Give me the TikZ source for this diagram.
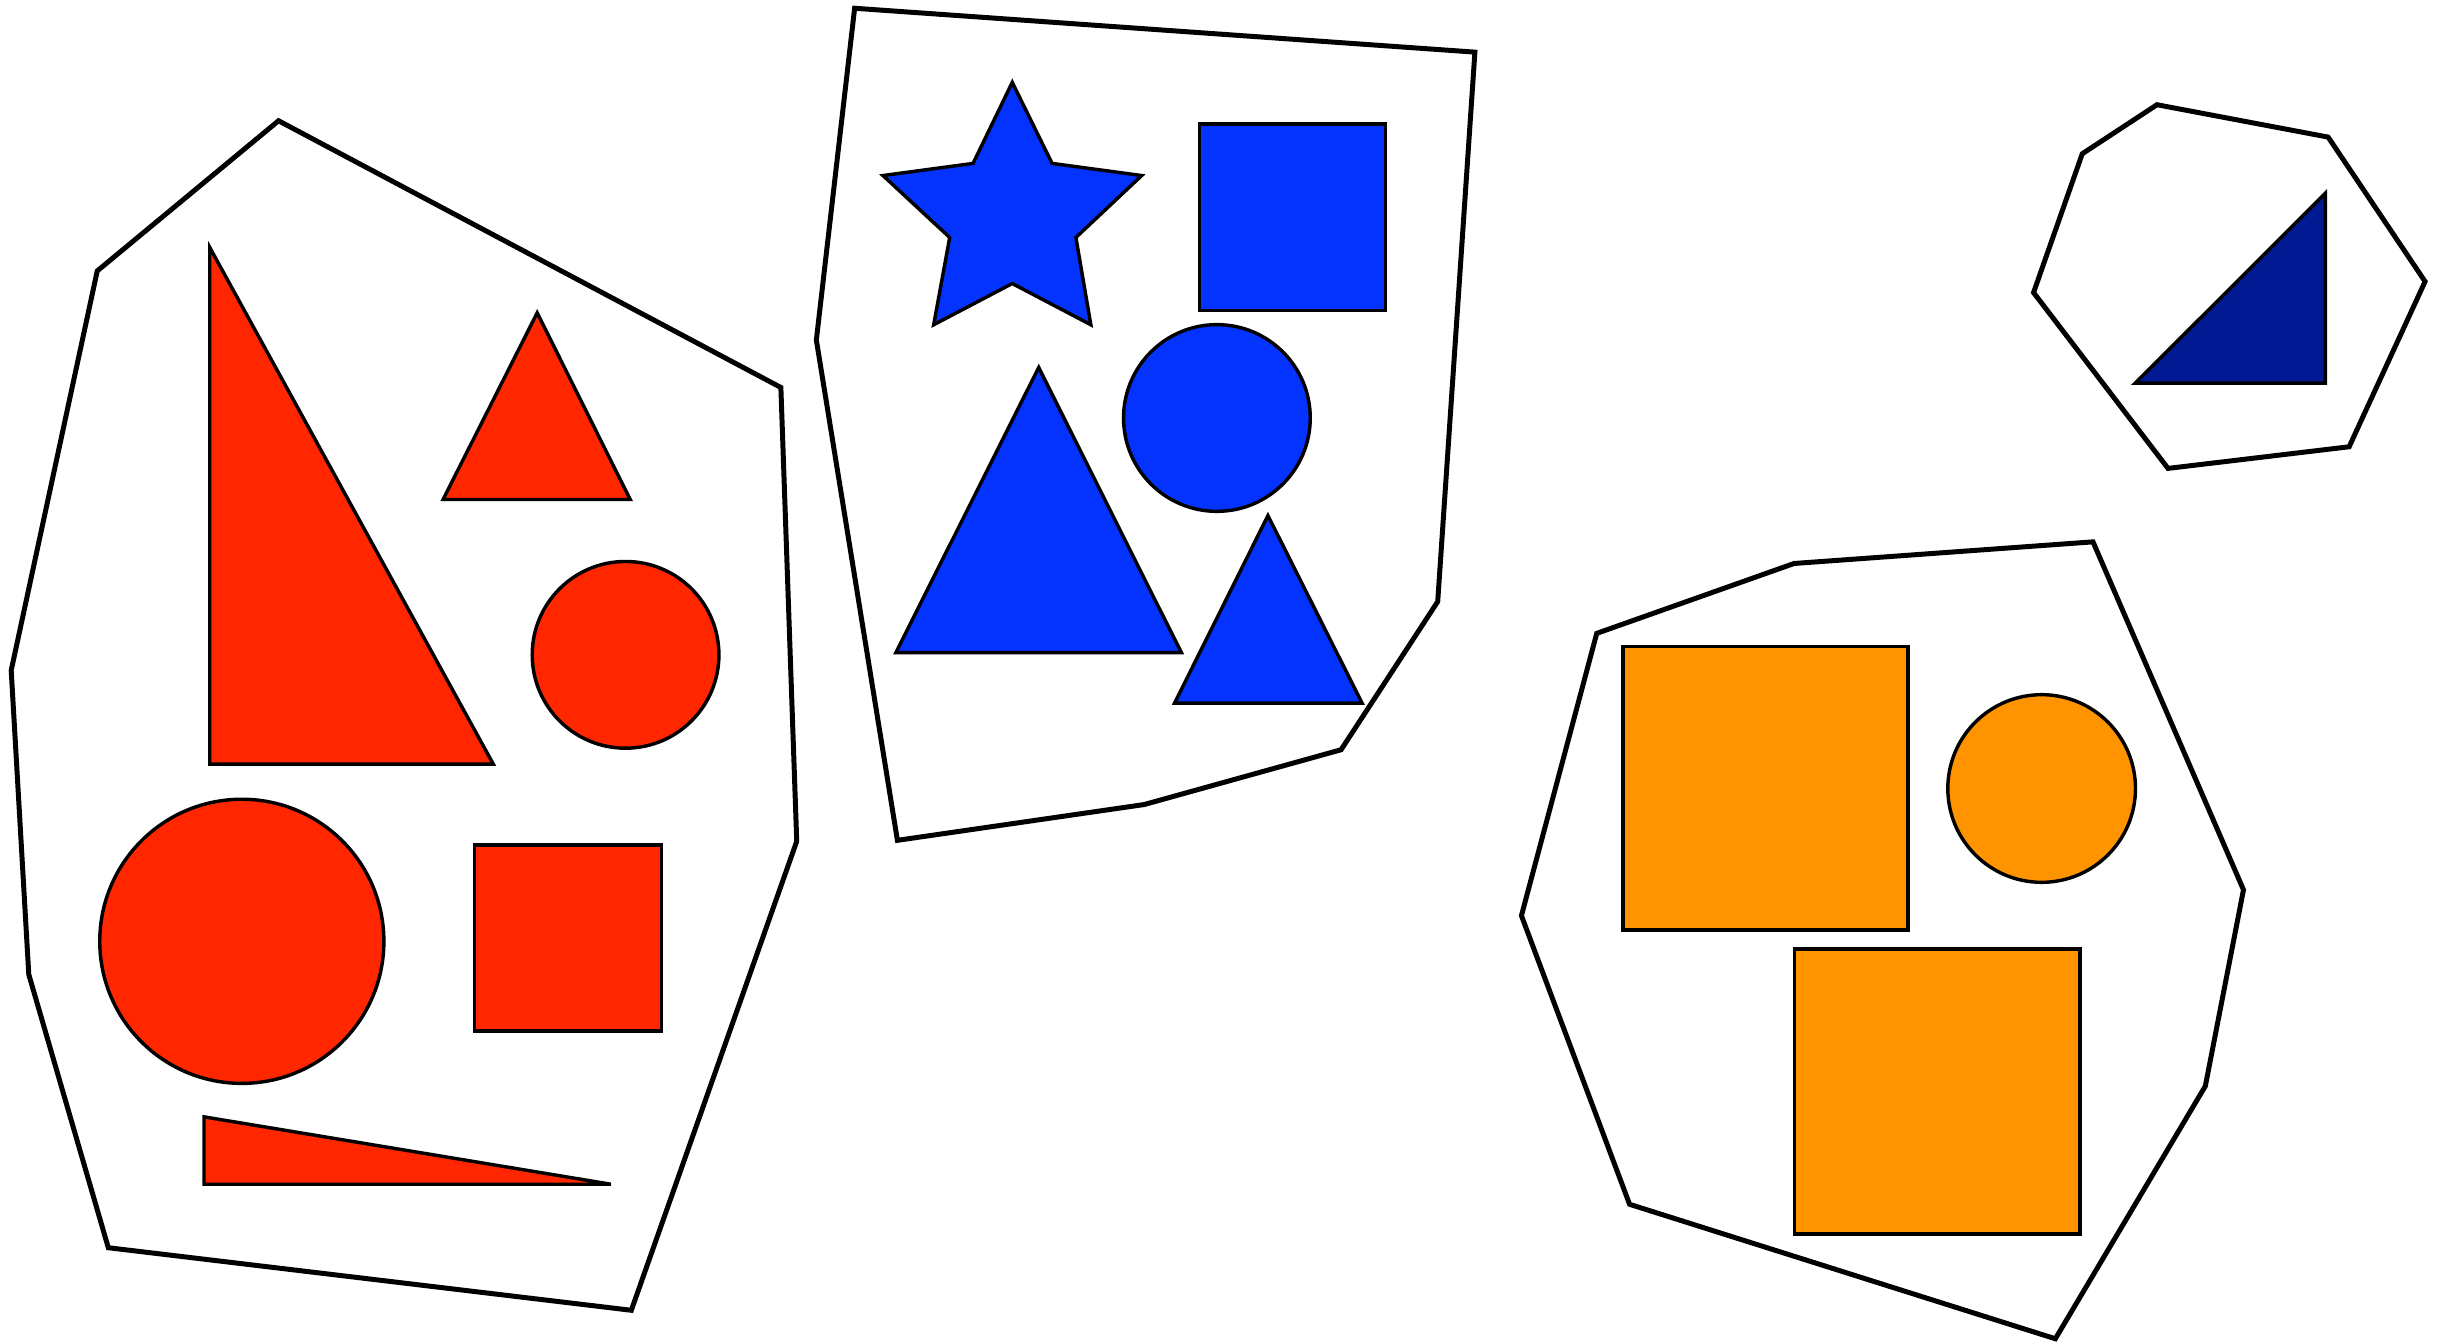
\documentclass[tikz,border=0pt]{standalone}
\definecolor{redc}{HTML}{FF2600}
\definecolor{bluec}{HTML}{0433FF}
\definecolor{navyc}{HTML}{011993}
\definecolor{orangec}{HTML}{FF9300}
\begin{document}
\begin{tikzpicture}[x=1pt,y=-1pt,
  hull/.style={draw=black,line width=3.2pt},
  shp/.style={draw=black,line width=2.2pt}]
\useasboundingbox[fill=white] (0,0) rectangle (1568,863);
% group hulls
\draw[hull] (179,77.6) -- (501.8,249) -- (512,540.6) -- (405.7,842) -- (69.6,801.8) -- (18.5,626.2) -- (7.2,430.8) -- (62.5,174.1) -- cycle;
\draw[hull] (549.2,5.3) -- (947.8,33.5) -- (923.9,386.6) -- (861.8,481.8) -- (735.3,517) -- (576.7,540) -- (524.6,218.5) -- cycle;
\draw[hull] (1386.1,67.3) -- (1496.1,88.1) -- (1558.4,180.9) -- (1509.6,287.1) -- (1393.2,301) -- (1306.8,188) -- (1338.1,98.8) -- cycle;
\draw[hull] (1345,348.2) -- (1441.7,571.8) -- (1417.2,697.9) -- (1320.8,860.3) -- (1047.2,773.9) -- (977.7,588.4) -- (1026.1,407) -- (1152.9,362.1) -- cycle;
% red group
\draw[shp,fill=redc] (134.8,159) -- (317,491) -- (134.8,491) -- cycle;
\draw[shp,fill=redc] (345.2,201) -- (405,321) -- (284.7,321) -- cycle;
\draw[shp,fill=redc] (402,420.8) circle[radius=60pt];
\draw[shp,fill=redc] (155.4,604.9) circle[radius=91.3pt];
\draw[shp,fill=redc] (304.8,543.1) rectangle (425.2,662.5);
\draw[shp,fill=redc] (131.1,717.7) -- (392.6,761) -- (131.1,761) -- cycle;
% blue group
\draw[shp,fill=bluec] (650.5,52.9) -- (676.1,105) -- (733.7,112.8) -- (691.4,152.6) -- (701,208.7) -- (650.5,182.2) -- (600,208.7) -- (610.3,152.6) -- (567.4,112.8) -- (625.3,105) -- cycle;
\draw[shp,fill=bluec] (770.7,79.7) rectangle (890.3,199.5);
\draw[shp,fill=bluec] (782,268.6) circle[radius=60pt];
\draw[shp,fill=bluec] (667.5,236.1) -- (759.2,419.4) -- (575.7,419.4) -- cycle;
\draw[shp,fill=bluec] (814.8,331.3) -- (875.3,451.8) -- (754.8,451.8) -- cycle;
% navy group
\draw[shp,fill=navyc] (1494.3,124.2) -- (1494.3,246.2) -- (1372.1,246.2) -- cycle;
% orange group
\draw[shp,fill=orangec] (1043,415.3) rectangle (1226.1,597.7);
\draw[shp,fill=orangec] (1312,506.7) circle[radius=60.3pt];
\draw[shp,fill=orangec] (1153.2,609.8) rectangle (1336.7,792.9);
\end{tikzpicture}
\end{document}
